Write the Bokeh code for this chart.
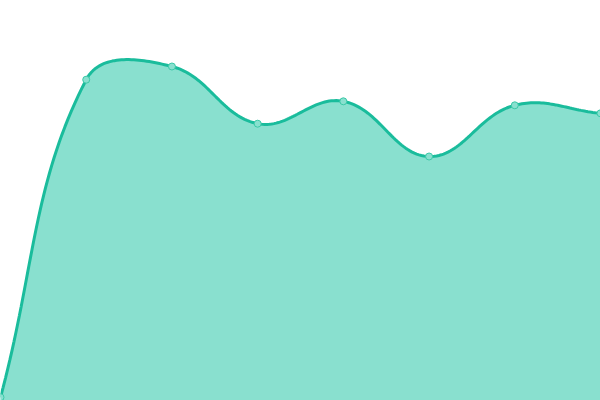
import numpy as np
from bokeh.plotting import figure
from bokeh.models import Range1d, ColumnDataSource
from bokeh.embed import file_html
from bokeh.resources import INLINE

# data
categories = [0, 1, 2, 3, 4, 5, 6, 7]
values = [0.8, 80.2, 83.5, 69.2, 74.8, 61.0, 73.8, 71.8]

W, H = 600, 400
X0, X1 = 0, 7
Y0, Y1 = 0, 100

p = figure(width=W, height=H, output_backend="svg", toolbar_location=None,
           x_range=Range1d(X0, X1), y_range=Range1d(Y0, Y1), min_border=0)
p.axis.visible = False
p.grid.visible = False
p.outline_line_color = None
p.background_fill_color = "white"
p.border_fill_color = "white"

# smooth curve (Chart.js style spline, tension 0.4) computed in screen space
sx = W / (X1 - X0)
sy = H / (Y1 - Y0)
px = np.array(categories, dtype=float) * sx
py = np.array(values, dtype=float) * sy
n = len(px)
tension = 0.4
cps = []
for i in range(n):
    prev = (px[max(i - 1, 0)], py[max(i - 1, 0)])
    cur = (px[i], py[i])
    nxt = (px[min(i + 1, n - 1)], py[min(i + 1, n - 1)])
    d01 = np.hypot(cur[0] - prev[0], cur[1] - prev[1])
    d12 = np.hypot(nxt[0] - cur[0], nxt[1] - cur[1])
    s01 = d01 / (d01 + d12) if d01 + d12 else 0
    s12 = d12 / (d01 + d12) if d01 + d12 else 0
    fa, fb = tension * s01, tension * s12
    c1 = (cur[0] - fa * (nxt[0] - prev[0]), cur[1] - fa * (nxt[1] - prev[1]))
    c2 = (cur[0] + fb * (nxt[0] - prev[0]), cur[1] + fb * (nxt[1] - prev[1]))
    cps.append((c1, c2))

cx, cy = [], []
t = np.linspace(0, 1, 40)
for i in range(n - 1):
    P0 = np.array([px[i], py[i]])
    P1 = np.array(cps[i][1])
    P2 = np.array(cps[i + 1][0])
    P3 = np.array([px[i + 1], py[i + 1]])
    pts = ((1 - t) ** 3)[:, None] * P0 + (3 * (1 - t) ** 2 * t)[:, None] * P1 \
        + (3 * (1 - t) * t ** 2)[:, None] * P2 + (t ** 3)[:, None] * P3
    cx.extend(pts[:, 0] / sx)
    cy.extend(pts[:, 1] / sy)

src = ColumnDataSource(dict(x=cx, y=cy, y0=[Y0] * len(cx)))
p.varea(x="x", y1="y0", y2="y", source=src, fill_color="#89e0cf")
p.line(x="x", y="y", source=src, line_color="#1abc9c", line_width=3)
p.scatter(x=categories, y=values, size=7, fill_color="#89e0cf",
          line_color="#3cc9a8", line_width=1)

html = file_html(p, INLINE)
html = html.replace("<head>", "<head><style>html,body{margin:0;padding:0;overflow:hidden;}</style>", 1)
open("out.html", "w").write(html)
